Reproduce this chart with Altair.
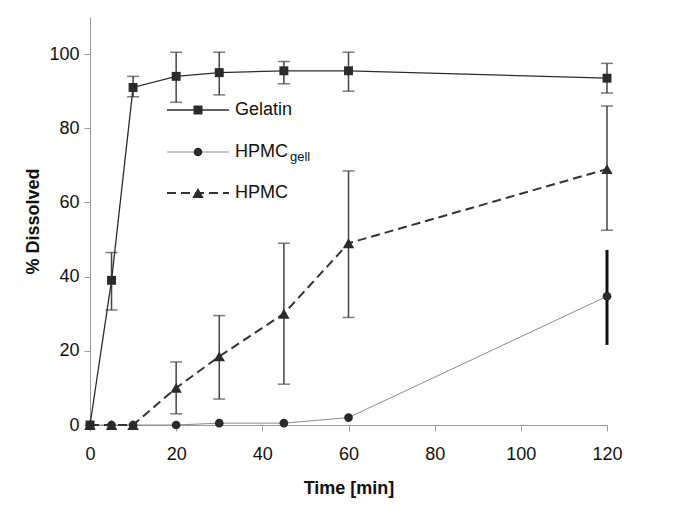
import altair as alt
import pandas as pd

time = [0, 5, 10, 20, 30, 45, 60, 120]

gelatin = [0, 39, 91, 94, 95, 95.5, 95.5, 93.5]
gelatin_lo = [None, 31, 88.5, 87, 89, 92, 90, 89.5]
gelatin_hi = [None, 46.5, 94, 100.5, 100.5, 98, 100.5, 97.5]

gell = [0, 0, 0, 0, 0.5, 0.5, 2, 34.7]
gell_lo = [None, None, None, None, None, None, None, 21.6]
gell_hi = [None, None, None, None, None, None, None, 47.2]

hpmc = [0, 0, 0, 10, 18.5, 30, 49, 69]
hpmc_lo = [None, None, None, 3, 7, 11, 29, 52.5]
hpmc_hi = [None, None, None, 17, 29.5, 49, 68.5, 86]

y_ticks = [0, 20, 40, 60, 80, 100]
x_ticks = [0, 20, 40, 60, 80, 100, 120]

FONT = "Liberation Sans"
DARK = "#2b2b2b"


def frame(vals, lo, hi):
    return pd.DataFrame({"t": time, "v": vals, "lo": lo, "hi": hi})


df_g = frame(gelatin, gelatin_lo, gelatin_hi)
df_c = frame(gell, gell_lo, gell_hi)
df_h = frame(hpmc, hpmc_lo, hpmc_hi)

xs = alt.Scale(domain=[0, 120], nice=False)
ys = alt.Scale(domain=[0, 110], nice=False)
X = alt.X("t:Q", scale=xs, axis=alt.Axis(values=x_ticks, title="Time [min]", labelFlush=False))
Y = alt.Y("v:Q", scale=ys, axis=alt.Axis(values=y_ticks, title="% Dissolved"))


def errs(df, color, width, cap=True):
    d = df.dropna(subset=["lo"])
    base = alt.Chart(d)
    rule = base.mark_rule(color=color, strokeWidth=width).encode(
        x=alt.X("t:Q", scale=xs), y=alt.Y("lo:Q", scale=ys), y2="hi:Q"
    )
    if not cap:
        return [rule]
    cap_lo = base.mark_tick(color=color, thickness=1.5, size=12, orient="horizontal").encode(
        x=alt.X("t:Q", scale=xs), y=alt.Y("lo:Q", scale=ys)
    )
    cap_hi = base.mark_tick(color=color, thickness=1.5, size=12, orient="horizontal").encode(
        x=alt.X("t:Q", scale=xs), y=alt.Y("hi:Q", scale=ys)
    )
    return [rule, cap_lo, cap_hi]


g_line = alt.Chart(df_g).mark_line(color=DARK, strokeWidth=1.3).encode(x=X, y=Y)
g_pts = alt.Chart(df_g).mark_point(shape="square", filled=True, color=DARK, size=80, opacity=1).encode(x=X, y=Y)

c_line = alt.Chart(df_c).mark_line(color="#8a8a8a", strokeWidth=1).encode(x=X, y=Y)
c_pts = alt.Chart(df_c).mark_point(shape="circle", filled=True, color=DARK, size=75, opacity=1).encode(x=X, y=Y)

h_line = alt.Chart(df_h).mark_line(color="#333333", strokeWidth=2, strokeDash=[9, 5]).encode(x=X, y=Y)
h_pts = alt.Chart(df_h).mark_point(shape="triangle-up", filled=True, color=DARK, size=130, opacity=1).encode(x=X, y=Y)

layers = []
layers += errs(df_g, "#444444", 1.5)
layers += errs(df_h, "#444444", 1.5)
layers += errs(df_c, "#111111", 3, cap=False)
layers += [g_line, c_line, h_line, g_pts, c_pts, h_pts]

# Manual legend (pixel positions inside plot area)
leg_rows = [("Gelatin", 93, "square", None, 1.3, DARK, 80), ("HPMC", 135, "circle", None, 1, "#8a8a8a", 75),
            ("HPMC", 176, "triangle-up", [9, 5], 2, "#333333", 130)]
anchor = pd.DataFrame({"a": [0]})
for label, yy, shape, dash, sw, col, sz in leg_rows:
    kw = dict(color=col, strokeWidth=sw)
    if dash:
        kw["strokeDash"] = dash
    layers.append(alt.Chart(anchor).mark_rule(**kw).encode(
        x=alt.value(77), x2=alt.value(139), y=alt.value(yy)))
    layers.append(alt.Chart(anchor).mark_point(shape=shape, filled=True, color=DARK, size=sz, opacity=1).encode(
        x=alt.value(108), y=alt.value(yy)))
    layers.append(alt.Chart(anchor).mark_text(text=label, align="left", baseline="middle", font=FONT,
                                              fontSize=18, color="#111111").encode(
        x=alt.value(145), y=alt.value(yy)))
layers.append(alt.Chart(anchor).mark_text(text="gell", align="left", baseline="middle", font=FONT,
                                          fontSize=13, color="#111111").encode(
    x=alt.value(200), y=alt.value(140)))

chart = alt.layer(*layers).properties(
    width=517, height=408,
    autosize=alt.AutoSizeParams(type="none"),
    padding={"left": 82, "top": 9, "right": 50, "bottom": 80},
).configure_view(stroke=None).configure_axis(
    grid=False, domainColor="#999999", tickColor="#999999", tickSize=6,
    labelFont=FONT, labelFontSize=18, labelColor="#111111",
    titleFont=FONT, titleFontSize=18, titleFontWeight="bold", titleColor="#111111",
).configure_axisY(titlePadding=6, labelPadding=5).configure_axisX(titlePadding=16, labelPadding=14)

chart.save("out.html", embed_options={"renderer": "svg", "actions": False})
